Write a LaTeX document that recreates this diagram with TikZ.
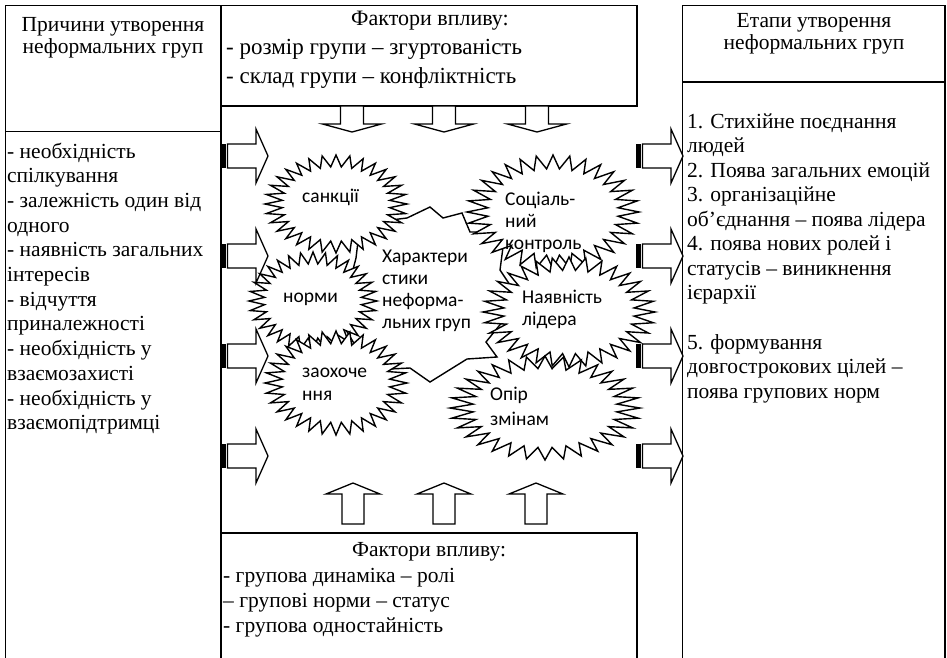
\documentclass[tikz,border=0pt]{standalone}
\usepackage{fontspec}
\setmainfont{Liberation Serif}
\newfontfamily\kalibri{Carlito}
\tikzset{
  ramka/.style={line width=1.4pt},
  blok/.style={draw, line width=1.3pt, fill=white, line join=miter},
  zubci/.style={draw, line width=1.4pt, fill=white, line join=miter},
  ryadok/.style={anchor=base west, inner sep=0pt, font=\fontsize{21.5}{24}\selectfont},
  shapka/.style={anchor=base, inner sep=0pt, font=\fontsize{21.5}{24}\selectfont},
  velykyi/.style={font=\fontsize{23}{26}\selectfont},
  napys/.style={anchor=base west, inner sep=0pt, font=\kalibri\fontsize{19.5}{22}\selectfont}
}
%zirka: centr x, centr y, rx, ry
\newcommand{\zirka}[4]{%
  \draw[zubci] plot[samples at={0,...,63}, variable=\k]
    ({#1+#3*(1-0.24*mod(\k,2))*cos(90+\k*5.625)},{#2+#4*(1-0.24*mod(\k,2))*sin(90+\k*5.625)}) -- cycle;}
%strilka vpravo: x khvosta, y centru
\newcommand{\vpravo}[2]{%
  \fill (#1,#2-12) rectangle (#1+4.5,#2+12);
  \draw[blok] (#1+6.5,#2-12) -- (#1+35,#2-12) -- (#1+35,#2-27) -- (#1+47,#2)
    -- (#1+35,#2+27) -- (#1+35,#2+12) -- (#1+6.5,#2+12) -- cycle;}
\begin{document}
\begin{tikzpicture}[x=1pt,y=-1pt]
  \useasboundingbox (0,0) rectangle (947,657);
  \clip (0,0) rectangle (947,657);
  %%%% RAMKY
  \draw[ramka] (5.5,665) -- (5.5,5.5) -- (221,5.5) -- (221,665);
  \draw[ramka] (5.5,131.5) -- (221,131.5);
  \draw[ramka] (221,5.5) -- (637,5.5) -- (637,106) -- (221,106);
  \draw[ramka] (682.5,665) -- (682.5,5.5) -- (945,5.5) -- (945,665);
  \draw[ramka] (682.5,82) -- (945,82);
  \draw[ramka] (221,533) -- (637,533) -- (637,665);
  %%%% STRILKY
  \foreach \y in {156,256,356,456} {
    \vpravo{221}{\y}
    \vpravo{636}{\y}
  }
  \foreach \x in {352,444,537}
    \draw[blok] (\x-11.5,106) -- (\x+11.5,106) -- (\x+11.5,124) -- (\x+29.5,124)
      -- (\x,132) -- (\x-29.5,124) -- (\x-11.5,124) -- cycle;
  \foreach \x in {353,444,536}
    \draw[blok] (\x-11,524) -- (\x-11,494) -- (\x-27,494) -- (\x,483)
      -- (\x+27,494) -- (\x+11,494) -- (\x+11,524) -- cycle;
  %%%% VYBUKH U CENTRI
  \draw[zubci] (375,222) -- (407,218) -- (430,207) -- (443,218) -- (462,213) -- (470,232)
    -- (505,232) -- (500,270) -- (520,300) -- (486,342) -- (497,357) -- (467,359)
    -- (430,382) -- (410,368) -- (370,370) -- (340,320) -- (356,258) -- (360,225) -- cycle;
  %%%% ZIRKY
  \zirka{336}{204}{71}{49}
  \zirka{313}{301}{64}{49}
  \zirka{336}{383}{71}{52}
  \zirka{553}{212}{86}{57}
  \zirka{569}{312}{86}{55}
  \zirka{545}{408}{95}{52}
  %%%% TEKSTY
  \node[shapka] at (113,31) (prychyny) {Причини утворення};
  \node[shapka] at (113,53) (prychyny2) {неформальних груп};
  \foreach \t [count=\i from 0] in {- необхідність, спілкування, - залежність один від,
      одного, - наявність загальних, інтересів, - відчуття, приналежності,
      - необхідність у, взаємозахисті, - необхідність у, взаємопідтримці}
    \node[ryadok] at (7,158+24.7*\i) (pr\i) {\t};
  \node[shapka,font=\fontsize{22}{26}\selectfont] at (430,25) (faktory) {Фактори впливу:};
  \node[ryadok,velykyi] at (226,54) (rozmir) {- розмір групи – згуртованість};
  \node[ryadok,velykyi] at (226,83) (sklad) {- склад групи – конфліктність};
  \node[shapka] at (429,556) (faktory2) {Фактори впливу:};
  \node[ryadok] at (223,582) (dynamika) {- групова динаміка – ролі};
  \node[ryadok] at (223,607) (normy2) {– групові норми – статус};
  \node[ryadok] at (223,632) (odnost) {- групова одностайність};
  \node[shapka] at (814,27) (etapy) {Етапи утворення};
  \node[shapka] at (814,49) (etapy2) {неформальних груп};
  \foreach \t [count=\i from 0] in {1. Стихійне поєднання, людей, 2. Поява загальних емоцій,
      3. організаційне, об’єднання – поява лідера, 4. поява нових ролей і,
      статусів – виникнення, ієрархії}
    \node[ryadok] at (687,128+24.5*\i) (et\i) {\t};
  \foreach \t [count=\i from 0] in {5. формування, довгострокових цілей –, поява групових норм}
    \node[ryadok] at (687,349+24.5*\i) (etb\i) {\t};
  %napysy u zirkakh
  \node[napys] at (302,202) (sankcii) {санкції};
  \node[napys] at (283,302) (normy) {норми};
  \node[napys] at (302,377) (zaoh1) {заохоче};
  \node[napys] at (302,400) (zaoh2) {ння};
  \node[napys] at (505,205) (sots1) {Соціаль-};
  \node[napys] at (505,227) (sots2) {ний};
  \node[napys] at (505,249) (sots3) {контроль};
  \node[napys] at (522,303) (lider1) {Наявність};
  \node[napys] at (522,325) (lider2) {лідера};
  \node[napys] at (490,400) (opir1) {Опір};
  \node[napys] at (490,425) (opir2) {змінам};
  \foreach \t [count=\i from 0] in {Характери, стики, неформа-, льних груп}
    \node[napys] at (382,262+22*\i) (khar\i) {\t};
\end{tikzpicture}
\end{document}
